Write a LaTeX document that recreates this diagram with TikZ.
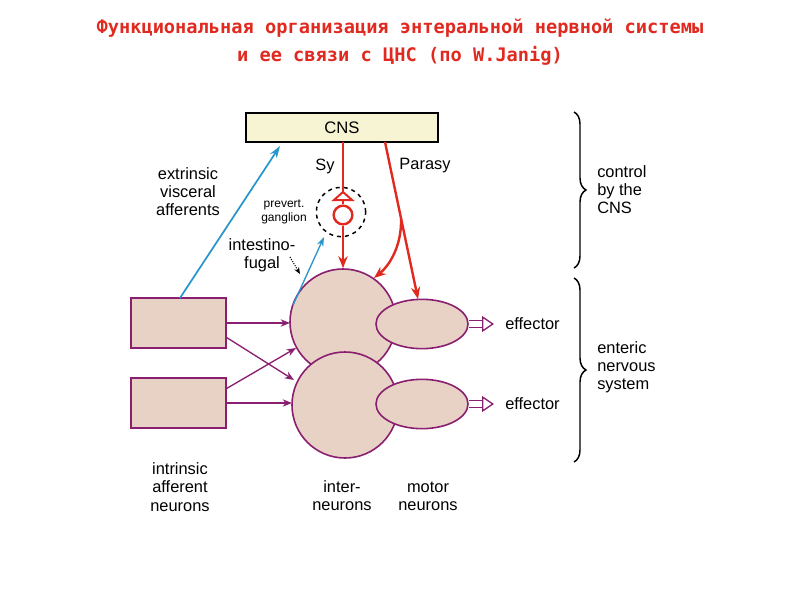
\documentclass[tikz,border=0pt]{standalone}
\usepackage{fontspec}
\setmainfont{Liberation Sans}
\newfontfamily\titlefont{DejaVu Sans Mono}
\usetikzlibrary{arrows.meta,decorations.pathreplacing,shapes.geometric}
\definecolor{nred}{HTML}{E02A20}
\definecolor{nblue}{HTML}{2A95CC}
\definecolor{npurp}{HTML}{8A1F70}
\definecolor{nfill}{HTML}{E8D1C5}
\definecolor{nyel}{HTML}{F6F4D2}
\begin{document}
\begin{tikzpicture}[x=0.75pt,y=-0.75pt,
  lbl/.style={font=\fontsize{12.3}{13.6}\selectfont,align=center,inner sep=0pt},
  cell/.style={draw=npurp,fill=nfill,line width=1.2pt},
  rcell/.style={draw=npurp,fill=nfill,line width=1.6pt},
  parr/.style={npurp,line width=1pt,-{Stealth[length=7pt,width=5.5pt]}},
  rarr/.style={nred,line width=1.8pt,-{Stealth[length=9pt,width=7pt]}},
  barr/.style={nblue,line width=1.3pt,-{Stealth[length=9pt,width=6pt]}}]
\useasboundingbox (0,0) rectangle (800,600);
\node[font=\titlefont\bfseries\fontsize{14}{21}\selectfont,text=nred,align=center] (title) at (400,42) {Функциональная организация энтеральной нервной системы\\и ее связи с ЦНС (по W.Janig)};
% CNS
\node[draw,line width=1.6pt,fill=nyel,minimum width=144pt,minimum height=21.5pt,inner sep=0pt,font=\fontsize{12.5}{14}\selectfont] (cns) at (342,127.5) {CNS};
% cells
\node[cell,circle,minimum size=79.5pt,inner sep=0pt] (i1) at (343,322) {};
\node[cell,circle,minimum size=79.5pt,inner sep=0pt] (i2) at (345,405) {};
\node[cell,ellipse,minimum width=69pt,minimum height=37pt,inner sep=0pt] (m1) at (422,324) {};
\node[cell,ellipse,minimum width=69pt,minimum height=37pt,inner sep=0pt] (m2) at (422,404) {};
\node[rcell,rectangle,minimum width=71pt,minimum height=37.5pt,inner sep=0pt] (a1) at (178.5,323) {};
\node[rcell,rectangle,minimum width=71pt,minimum height=37.5pt,inner sep=0pt] (a2) at (178.5,403) {};
% purple arrows
\coordinate (t1) at (290,323); \coordinate (t2) at (294,380);
\coordinate (t3) at (296,348); \coordinate (t4) at (292,403);
\draw[parr] (a1.east) -- (t1);
\draw[parr] ([yshift=-11pt]a1.east) -- (t2);
\draw[parr] ([yshift=11pt]a2.east) -- (t3);
\draw[parr] (a2.east) -- (t4);
% effector arrows
\node[lbl,anchor=west] (e1) at (505,324) {effector};
\node[lbl,anchor=west] (e2) at (505,404) {effector};
\draw[npurp,line width=1pt,double=white,double distance=4pt,-{Triangle[open,length=9pt,width=12pt]}] (m1.east) -- (494,324);
\draw[npurp,line width=1pt,double=white,double distance=4pt,-{Triangle[open,length=9pt,width=12pt]}] (m2.east) -- (494,404);
% ganglion
\node[draw,dashed,circle,line width=1.1pt,minimum size=37pt,inner sep=0pt] (gang) at (341,212) {};
\node[draw=nred,circle,line width=1.8pt,minimum size=14pt,inner sep=0pt] (gc) at (343,215) {};
\coordinate (sytop) at (343,142);
\draw[nred,line width=1.8pt] (sytop) -- (343,192);
\draw[nred,line width=1.5pt] (334,200) -- (343,192) -- (352,200) -- cycle;
\draw[nred,line width=1.8pt] (343,200) -- (gc.north);
\draw[rarr] (gc.south) -- (i1.north);
% parasy
\coordinate (ptop) at (385,142); \coordinate (pbr) at (401,218);
\draw[rarr] (ptop) -- (418,299);
\draw[rarr] (pbr) .. controls (402,245) and (390,265) .. (374,278);
% blue
\draw[barr] (180,298) -- (280,146);
\draw[nblue,line width=1pt,-{Stealth[length=7pt,width=5pt]}] (293,305) -- (324,237);
\draw[densely dotted,line width=0.8pt,-{Stealth[length=5pt,width=4pt]}] (290,257) -- (300,274);
% labels
\node[lbl] (ext) at (188,192) {extrinsic\\visceral\\afferents};
\node[lbl,font=\fontsize{9}{10.5}\selectfont] (pg) at (284,212) {prevert.\\ganglion};
\node[lbl] (ifu) at (262,255) {intestino-\\fugal};
\node[lbl] (sy) at (325,166) {Sy};
\node[lbl] (par) at (425,166) {Parasy};
\node[lbl] (ian) at (180,487) {intrinsic\\afferent\\neurons};
\node[lbl] (inn) at (342,496) {inter-\\neurons};
\node[lbl] (mn) at (428,496) {motor\\neurons};
% braces
\draw[decorate,decoration={brace,amplitude=9pt},line width=1.1pt] (574,112) -- (574,268);
\draw[decorate,decoration={brace,amplitude=9pt},line width=1.1pt] (574,278) -- (574,462);
\node[lbl,align=left,anchor=west] (ctl) at (597,190) {control\\by the\\CNS};
\node[lbl,align=left,anchor=west] (ens) at (597,367) {enteric\\nervous\\system};
\end{tikzpicture}
\end{document}
